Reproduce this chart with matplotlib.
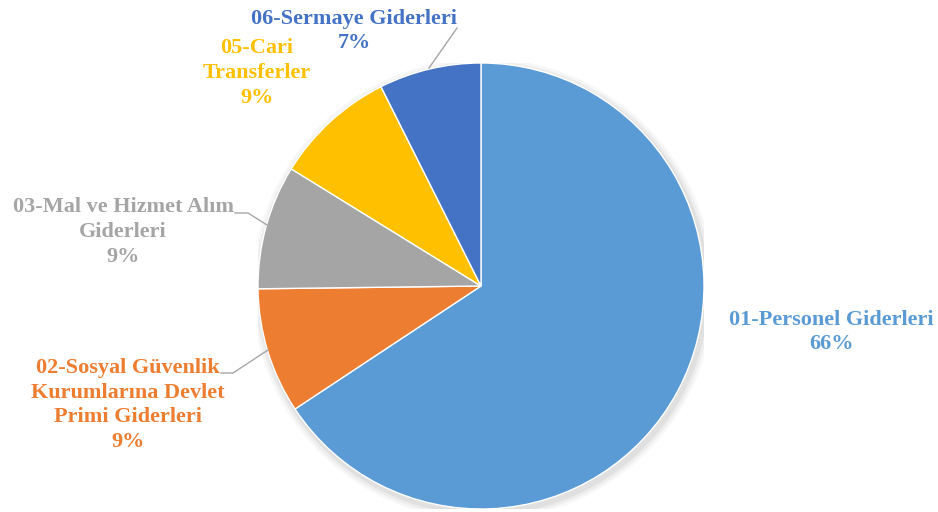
import matplotlib.pyplot as plt
import numpy as np

plt.rcParams['font.family'] = ['Liberation Serif', 'DejaVu Serif']

labels = ['01-Personel Giderleri', '02-Sosyal Güvenlik\nKurumlarına Devlet\nPrimi Giderleri',
          '03-Mal ve Hizmet Alım\nGiderleri', '05-Cari\nTransferler', '06-Sermaye Giderleri']
values = [65.7, 9.1, 9.0, 8.8, 7.4]
pct_text = ['66%', '9%', '9%', '9%', '7%']
colors = ['#5B9BD5', '#ED7D31', '#A5A5A5', '#FFC000', '#4472C4']

W, H = 938, 512
fig = plt.figure(figsize=(W / 100, H / 100), dpi=100)
cx, cy, r = 481, 286, 223
ax = fig.add_axes([(cx - r) / W, (H - cy - r) / H, 2 * r / W, 2 * r / H])

# faint shadow
for i, a in enumerate([0.05, 0.04, 0.03]):
    ax.add_patch(plt.Circle((0.01, -0.015), 1.0 + 0.012 * (i + 1), color='black', alpha=a, lw=0, zorder=0))

ax.pie(values, colors=colors, startangle=90, counterclock=False, radius=1,
       wedgeprops=dict(edgecolor='white', linewidth=1))
ax.set_xlim(-1, 1)
ax.set_ylim(-1, 1)
ax.axis('off')


def px(x, y):
    return (x - cx) / r, (cy - y) / r


label_pos = [(831, 332), (128, 405), (123, 232), (257, 73), (354, 31)]
for lab, pc, col, (x, y) in zip(labels, pct_text, colors, label_pos):
    dx, dy = px(x, y)
    ax.text(dx, dy, lab + '\n' + pc, color=col, fontsize=16, fontweight='bold',
            ha='center', va='center', linespacing=1.32, clip_on=False)

leaders = [
    [(429, 68), (457, 28)],
    [(267, 225), (248, 213), (235, 213)],
    [(268, 350), (233, 373), (221, 373)],
]
for pts in leaders:
    xs, ys = zip(*[px(*p) for p in pts])
    ax.plot(xs, ys, color='#A6A6A6', lw=1, clip_on=False)

fig.savefig('out.png', dpi=100)
